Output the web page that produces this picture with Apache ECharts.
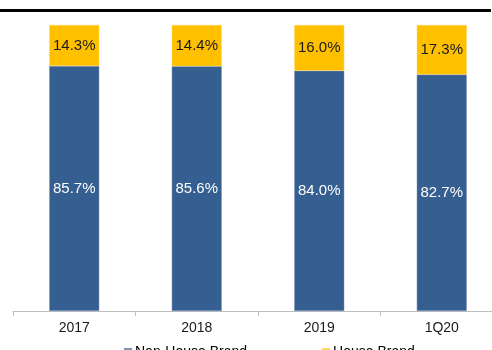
<!DOCTYPE html>
<html>
<head>
<meta charset="utf-8">
<script src="https://cdn.jsdelivr.net/npm/echarts@6/dist/echarts.min.js"></script>
<style>html,body{margin:0;padding:0;background:#fff}#c{width:492px;height:350px}</style>
</head>
<body>
<div id="c"></div>
<script>
var categories = ['2017', '2018', '2019', '1Q20'];
var nonHouseBrand = [85.7, 85.6, 84.0, 82.7];
var houseBrand = [14.3, 14.4, 16.0, 17.3];
var seriesNames = ['Non-House Brand', 'House Brand'];

var chart = echarts.init(document.getElementById('c'), null, {renderer: 'canvas'});
var font = 'Liberation Sans, Arial, sans-serif';
chart.setOption({
  animation: false,
  backgroundColor: '#ffffff',
  graphic: [{
    type: 'rect', left: 0, top: 9, shape: {width: 491, height: 3},
    style: {fill: '#000000'}
  }],
  grid: {left: 13, top: 25, width: 490, bottom: 39, outerBoundsMode: 'none', containLabel: false},
  legend: {
    left: 119, top: 340, itemWidth: 6, itemHeight: 6, itemGap: 75,
    icon: 'rect',
    textStyle: {fontFamily: font, fontSize: 14, color: '#000', padding: [0, 0, 0, -1]},
    data: seriesNames
  },
  xAxis: {
    type: 'category', data: categories,
    axisLine: {lineStyle: {color: '#bfbfbf', width: 1}},
    axisTick: {show: true, length: 5, lineStyle: {color: '#bfbfbf'}},
    axisLabel: {fontFamily: font, fontSize: 14, color: '#1a1a1a', margin: 10}
  },
  yAxis: {type: 'value', min: 0, max: 100, show: false, splitLine: {show: false}},
  series: [{
    name: seriesNames[0], type: 'bar', stack: 'a', barWidth: 50, data: nonHouseBrand,
    itemStyle: {color: '#355E91', borderColor: '#7f97b8', borderWidth: 0.5},
    label: {show: true, position: 'inside', formatter: function(p){return p.value.toFixed(1) + '%';},
      fontFamily: font, fontSize: 15, color: '#ffffff'}
  }, {
    name: seriesNames[1], type: 'bar', stack: 'a', barWidth: 50, data: houseBrand,
    itemStyle: {color: '#FFC000', borderColor: '#ffd766', borderWidth: 0.5},
    label: {show: true, position: 'inside', formatter: function(p){return p.value.toFixed(1) + '%';},
      fontFamily: font, fontSize: 15, color: '#1a1a1a'}
  }]
});
</script>
</body>
</html>
